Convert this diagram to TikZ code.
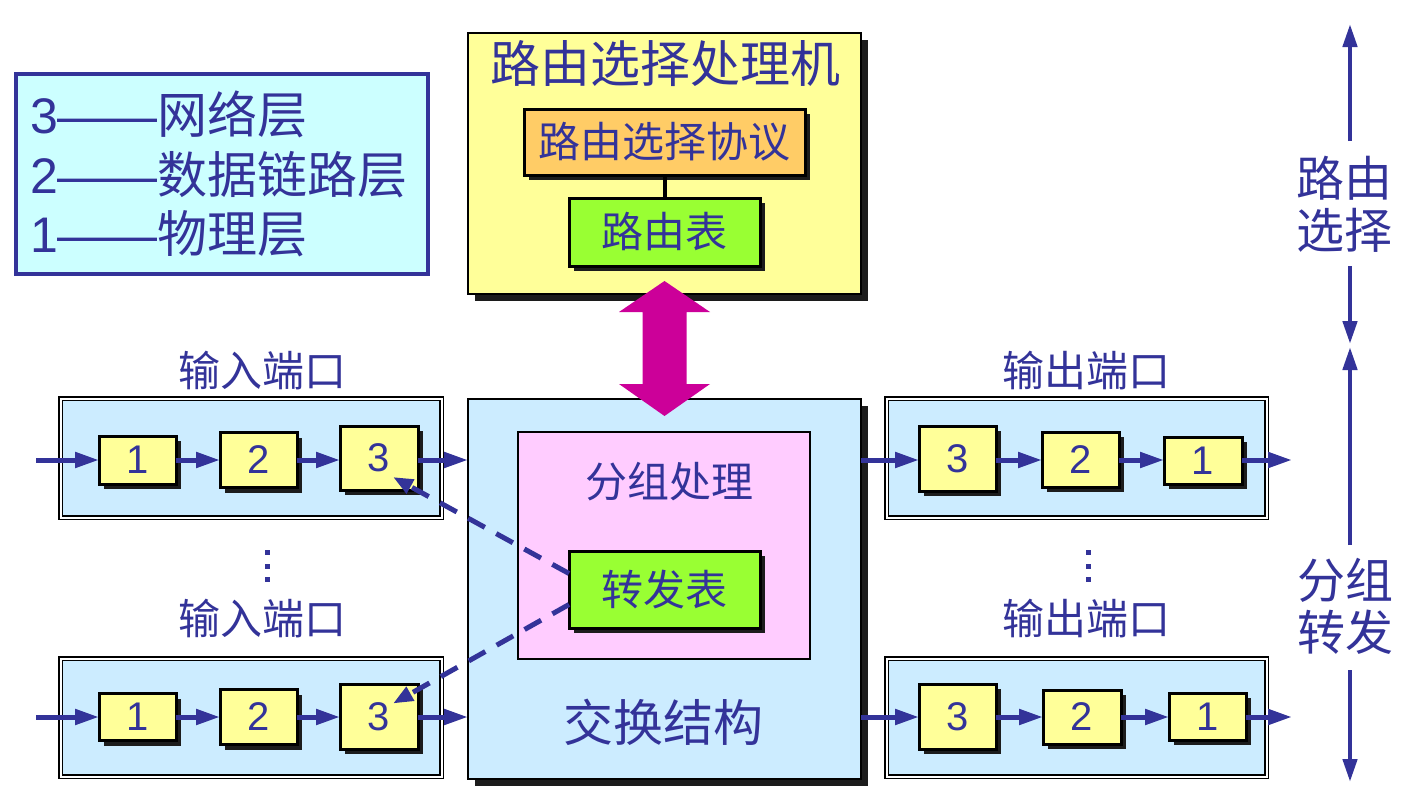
\documentclass[tikz,border=0pt]{standalone}
\usepackage{fontspec}
\setmainfont{Noto Sans CJK SC}
\newfontfamily\lat{Liberation Sans}
\usetikzlibrary{shadows,arrows.meta,calc}
\definecolor{tblue}{RGB}{51,51,153}
\definecolor{ylw}{RGB}{255,255,153}
\definecolor{org}{RGB}{255,204,102}
\definecolor{grn}{RGB}{153,255,51}
\definecolor{lblue}{RGB}{204,236,255}
\definecolor{pinkf}{RGB}{255,204,255}
\definecolor{cyanf}{RGB}{204,255,255}
\definecolor{mag}{RGB}{204,0,153}
\definecolor{shd}{RGB}{28,28,28}
\newcommand\myfs[1]{\fontsize{#1}{#1}\selectfont}
\begin{document}
\begin{tikzpicture}[x=1pt,y=-1pt,
  every node/.style={inner sep=0pt,outer sep=0pt,text=tblue},
  shad/.style={drop shadow={shadow xshift=#1,shadow yshift=-#1,fill=shd,opacity=1}},
  lay/.style={draw=black,line width=3pt,fill=ylw,shad=5pt,font=\lat\myfs{40}},
  portbox/.style={draw=black,double=white,line width=1.5pt,double distance=2pt,fill=lblue},
  flow/.style={draw=tblue,line width=5pt,-{Triangle[length=24pt,width=15pt]}},
  vflow/.style={draw=tblue,line width=4.5pt,-{Triangle[length=23pt,width=14pt]}},
  dashl/.style={draw=tblue,line width=5pt,dash pattern=on 19pt off 13pt,-{Triangle[length=20pt,width=15pt]}},
  lbl/.style={font=\myfs{42}},
  dotsq/.style={fill=tblue}
]
\useasboundingbox (0,0) rectangle (1425,803);
\fill[white] (0,0) rectangle (1425,803);

% legend
\node[draw=tblue,line width=4pt,fill=cyanf,minimum width=412pt,minimum height=200pt] (leg) at (222,174) {};
\node[anchor=west,font=\myfs{50}] (l3) at (30,114) {{\lat 3——}网络层};
\node[anchor=west,font=\myfs{50}] (l2) at (30,175) {{\lat 2——}数据链路层};
\node[anchor=west,font=\myfs{50}] (l1) at (30,234) {{\lat 1——}物理层};

% routing processor
\node[draw=black,line width=2.5pt,fill=ylw,shad=7pt,minimum width=393pt,minimum height=261pt] (rp) at (664.5,163.5) {};
\node[font=\myfs{50}] (rpt) at (665.5,64) {路由选择处理机};
\node[draw=black,line width=3pt,fill=org,shad=5pt,minimum width=281pt,minimum height=66pt,font=\myfs{42}] (proto) at (664.5,142) {路由选择协议};
\node[draw=black,line width=3pt,fill=grn,shad=5pt,minimum width=191pt,minimum height=68pt,font=\myfs{42}] (rtab) at (664.5,232) {路由表};
\draw[line width=4pt] (proto.south) -- (rtab.north);

% switch fabric
\node[draw=black,line width=2.5pt,fill=lblue,shad=7pt,minimum width=393pt,minimum height=380pt] (fab) at (664.5,589) {};
\node[draw=black,line width=2pt,fill=pinkf,minimum width=292pt,minimum height=227pt] (pk) at (664,545.5) {};
\node[font=\myfs{42}] (pkt) at (669,482) {分组处理};
\node[draw=black,line width=3pt,fill=grn,shad=5pt,minimum width=191pt,minimum height=77pt,font=\myfs{42}] (fw) at (664.5,589.5) {转发表};
\node[font=\myfs{50}] (fabt) at (663,722) {交换结构};

% magenta double arrow
\fill[mag] (664.5,281) -- (710,312) -- (686.5,312) -- (686.5,384) -- (710,384) -- (664.5,416)
  -- (619,384) -- (642.5,384) -- (642.5,312) -- (619,312) -- cycle;

% port boxes
\node[portbox,minimum width=381pt,minimum height=119pt] (ip1) at (251,458) {};
\node[portbox,minimum width=381pt,minimum height=118pt] (ip2) at (251,717.5) {};
\node[portbox,minimum width=380pt,minimum height=119pt] (op1) at (1076.5,458) {};
\node[portbox,minimum width=380pt,minimum height=118pt] (op2) at (1076.5,717.5) {};

\node[lbl] (ipt1) at (262,371) {输入端口};
\node[lbl] (ipt2) at (262,619) {输入端口};
\node[lbl] (opt1) at (1086,371) {输出端口};
\node[lbl] (opt2) at (1086,619) {输出端口};

% dots
\foreach \yy in {552,566,579}{
  \fill[dotsq] (264.5,\yy-2.5) rectangle (269.5,\yy+2.5);
  \fill[dotsq] (1085.5,\yy-2.5) rectangle (1090.5,\yy+2.5);
}

% layer boxes, input top
\node[lay,minimum width=77pt,minimum height=48pt] (a1) at (137.5,460) {1};
\node[lay,minimum width=77pt,minimum height=55pt] (a2) at (258.5,460) {2};
\node[lay,minimum width=78pt,minimum height=64pt] (a3) at (379,458) {3};
% input bottom
\node[lay,minimum width=77pt,minimum height=47pt] (c1) at (137.5,717) {1};
\node[lay,minimum width=77pt,minimum height=55pt] (c2) at (258.5,717) {2};
\node[lay,minimum width=78pt,minimum height=65pt] (c3) at (379,716.5) {3};
% output top
\node[lay,minimum width=77pt,minimum height=65pt] (b3) at (957.5,458.5) {3};
\node[lay,minimum width=77pt,minimum height=55pt] (b2) at (1080.5,459.5) {2};
\node[lay,minimum width=78pt,minimum height=47pt] (b1) at (1203,460.5) {1};
% output bottom
\node[lay,minimum width=77pt,minimum height=65pt] (d3) at (957.5,716.5) {3};
\node[lay,minimum width=78pt,minimum height=54pt] (d2) at (1082,717) {2};
\node[lay,minimum width=77pt,minimum height=47pt] (d1) at (1207.5,716.5) {1};

\coordinate (ina) at (36,460);
\coordinate (inc) at (36,717);
\coordinate (outb) at (1292,460);
\coordinate (outd) at (1292,717);

\draw[flow] (ina) -- (a1.west |- ina);
\draw[flow] (a1.east |- ina) -- (a2.west |- ina);
\draw[flow] (a2.east |- ina) -- (a3.west |- ina);
\draw[flow] (a3.east |- ina) -- (fab.west |- ina);
\draw[flow] (inc) -- (c1.west |- inc);
\draw[flow] (c1.east |- inc) -- (c2.west |- inc);
\draw[flow] (c2.east |- inc) -- (c3.west |- inc);
\draw[flow] (c3.east |- inc) -- (fab.west |- inc);
\draw[flow] (fab.east |- outb) -- (b3.west |- outb);
\draw[flow] (b3.east |- outb) -- (b2.west |- outb);
\draw[flow] (b2.east |- outb) -- (b1.west |- outb);
\draw[flow] (b1.east |- outb) -- (outb);
\draw[flow] (fab.east |- outd) -- (d3.west |- outd);
\draw[flow] (d3.east |- outd) -- (d2.west |- outd);
\draw[flow] (d2.east |- outd) -- (d1.west |- outd);
\draw[flow] (d1.east |- outd) -- (outd);

% dashed lookups
\draw[dashl] ([yshift=16pt]fw.west) -- ([xshift=14pt,yshift=-19pt]a3.center);
\draw[dashl] ([yshift=-15pt]fw.west) -- ([xshift=14pt,yshift=13pt]c3.center);

% right side
\node[font=\fontsize{48}{52}\selectfont,align=center] (rsel) at (1344,204) {路由\\选择};
\node[font=\fontsize{48}{52}\selectfont,align=center] (pfw) at (1345,606) {分组\\转发};
\coordinate (u1) at (1350,24);
\coordinate (u1s) at (1350,141);
\coordinate (d1s) at (1350,266);
\coordinate (dd1) at (1350,344);
\coordinate (u2) at (1350,347);
\coordinate (u2s) at (1350,545);
\coordinate (d2s) at (1350,670);
\coordinate (dd2) at (1350,782);
\draw[vflow] (u1s) -- (u1);
\draw[vflow] (d1s) -- (dd1);
\draw[vflow] (u2s) -- (u2);
\draw[vflow] (d2s) -- (dd2);
\end{tikzpicture}
\end{document}
